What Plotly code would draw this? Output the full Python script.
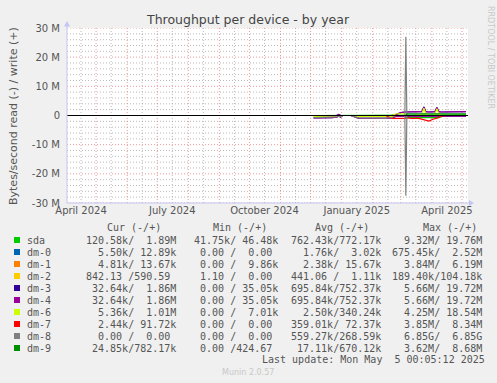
import plotly.graph_objects as go
import pandas as pd

# ---------------- data (values in M bytes/second; read negative, write positive) ----------------
dates = ["2024-12-04","2024-12-10","2024-12-16","2024-12-22","2024-12-27","2024-12-29","2024-12-31",
         "2025-01-02","2025-01-10","2025-01-18","2025-01-25","2025-02-01","2025-02-08","2025-02-14",
         "2025-02-20","2025-02-24","2025-03-01","2025-03-05","2025-03-06","2025-03-07","2025-03-12",
         "2025-03-18","2025-03-22","2025-03-24","2025-03-26","2025-03-29","2025-04-02","2025-04-04",
         "2025-04-06","2025-04-08","2025-04-10","2025-04-15","2025-04-22","2025-04-29","2025-05-05"]

devices = ["sda","dm-0","dm-1","dm-2","dm-3","dm-4","dm-6","dm-7","dm-8","dm-9"]
colors  = ["#00cc00","#0066b3","#ff8000","#ffcc00","#330099","#990099","#ccff00","#ff0000","#808080","#008f00"]

Z = [0.0]*35
sda_read  = [0,0,0,0,0,0,0, 0,0,0,0,0,0,0, 0,0,0,0,-0.7,-0.7,-0.6, -0.7,-0.7,-0.8,-0.7,-0.7,-0.7,-0.6, -0.7,-0.7,-0.5,0,0,0,0]
sda_write = [0,0,0,0,0,0,0, 0,0,0,0,0,0,0, 0,0,0,0,0.2,0.2,0.2, 0.2,0.2,0.2,0.2,0.2,0.2,0.2, 0.2,0.2,0.2,0.2,0.2,0.2,0.2]
dm0_read, dm0_write = Z, Z
dm1_read, dm1_write = Z, Z
dm2_read, dm2_write = Z, Z
dm4_read  = [-0.8,-0.85,-0.8,-0.75,-0.6,-0.2,-0.5, 0,0,-0.9,-0.95,-1.0,-0.9,-1.0, -0.8,-0.3,-0.2,-0.2,-0.2,-0.2,-0.2, -0.2,-0.2,-0.2,-0.2,-0.2,-0.2,-0.2, -0.2,-0.2,-0.2,-0.2,-0.2,-0.2,-0.2]
dm4_write = [0,0,0,0,0,0.4,0, 0,0,0,0,0,0,0, 0,0.3,1.0,1.2,1.2,1.2,1.2, 1.2,1.3,2.9,1.3,1.2,1.2,1.3, 2.7,1.3,1.2,1.2,1.2,1.3,1.3]
dm3_read, dm3_write = dm4_read, dm4_write
dm6_read  = [-0.3,-0.3,-0.3,-0.3,-0.3,-0.3,-0.3, 0,0,-0.3,-0.3,-0.3,-0.3,-0.3, -0.3,0,0,0,0,0,0, 0,0,0,0,0,0,0, 0,0,0,0,0,0,0]
dm6_write = [0,0,0,0,0,0,0, 0,0,0,0,0,0,0, 0,0.6,0.6,0.6,0,0,0, 0,0.5,2.5,0.5,0,0,0.4, 2.3,0.4,0,0,0,0,0]
dm7_read  = [0,0,0,0,0,0,0, 0,0,0,0,0,0,0, -1.0,-1.0,-1.1,-0.9,-1.0,-0.8,-1.0, -0.9,-1.2,-1.5,-1.6,-1.9,-1.3,-1.0, -0.9,-0.7,-0.2,0,0,0,0]
dm7_write = Z
dm8_read  = [-0.7,-0.7,-0.7,-0.65,-0.5,-0.2,-0.4, 0,0,-0.8,-0.85,-0.9,-0.8,-0.9, -0.7,0,0,0,-27.5,0,0, 0,0,0,0,0,0,0, 0,0,0,0,0,0,0]
dm8_write = [0,0,0,0,0,0,0, 0,0,0,0,0,0,0, 0,0,0,0,27.0,0,0, 0,0,0,0,0,0,0, 0,0,0,0,0,0,0]
dm9_read  = [0,0,0,0,0,0,0, 0,0,0,0,0,0,0, 0,0,0,0,0,-0.25,-0.25, -0.25,-0.25,-0.25,-0.25,-0.25,-0.25,-0.25, -0.25,-0.25,-0.25,0,0,0,0]
dm9_write = [0,0,0,0,0,0,0, 0,0,0,0,0,0,0, 0,0,0,0,0,0.55,0.55, 0.55,0.55,0.55,0.55,0.55,0.55,0.55, 0.55,0.55,0.55,0.55,0.55,0.55,0.55]

reads  = [sda_read, dm0_read, dm1_read, dm2_read, dm3_read, dm4_read, dm6_read, dm7_read, dm8_read, dm9_read]
writes = [sda_write, dm0_write, dm1_write, dm2_write, dm3_write, dm4_write, dm6_write, dm7_write, dm8_write, dm9_write]

y_tickvals = [30, 20, 10, 0, -10, -20, -30]
y_ticktext = ["30 M", "20 M", "10 M", "0", "-10 M", "-20 M", "-30 M"]
x_tickvals = ["2024-04-16", "2024-07-16", "2024-10-16", "2025-01-16", "2025-04-16"]
x_ticktext = ["April 2024", "July 2024", "October 2024", "January 2025", "April 2025"]

legend_cur = ["120.58k/  1.89M", "  5.50k/ 12.89k", "  4.81k/ 13.67k", "842.13 /590.59 ", " 32.64k/  1.86M",
              " 32.64k/  1.86M", "  5.36k/  1.01M", "  2.44k/ 91.72k", "  0.00 /  0.00 ", " 24.85k/782.17k"]
legend_min = [" 41.75k/ 46.48k", "  0.00 /  0.00 ", "  0.00 /  9.86k", "  1.10 /  0.00 ", "  0.00 / 35.05k",
              "  0.00 / 35.05k", "  0.00 /  7.01k", "  0.00 /  0.00 ", "  0.00 /  0.00 ", "  0.00 /424.67 "]
legend_avg = ["762.43k/772.17k", "  1.76k/  3.02k", "  2.38k/ 15.67k", "441.06 /  1.11k", "695.84k/752.37k",
              "695.84k/752.37k", "  2.50k/340.24k", "359.01k/ 72.37k", "559.27k/268.59k", " 17.11k/670.12k"]
legend_max = ["  9.32M/ 19.76M", "675.45k/  2.52M", "  3.84M/  6.19M", "189.40k/104.18k", "  5.66M/ 19.72M",
              "  5.66M/ 19.72M", "  4.25M/ 18.54M", "  3.85M/  8.34M", "  6.85G/  6.85G", "  3.62M/  8.68M"]
headers = ["Cur (-/+)", "Min (-/+)", "Avg (-/+)", "Max (-/+)"]

# ---------------- figure ----------------
W, H = 497, 383
PX0, PX1, PY0, PY1 = 67, 468, 28, 203
def xp(px): return (px - PX0) / (PX1 - PX0)
def yp(py): return (PY1 - py) / (PY1 - PY0)
def nb(s): return s.replace(" ", "\u00a0")

fig = go.Figure()
for name, col, r, w in zip(devices, colors, reads, writes):
    fig.add_trace(go.Scatter(x=pd.to_datetime(dates), y=r, mode="lines", line=dict(color=col, width=1.2),
                             showlegend=False, hoverinfo="skip"))
    fig.add_trace(go.Scatter(x=pd.to_datetime(dates), y=w, mode="lines", line=dict(color=col, width=1.2),
                             showlegend=False, hoverinfo="skip"))

RED = "rgba(235,110,110,0.7)"
GRY = "rgba(140,140,140,0.6)"
DOT = "1px,2px"
shapes = []
# horizontal grid
for v in range(-30, 31, 2):
    major = (v % 10 == 0)
    shapes.append(dict(type="line", xref="paper", yref="y", x0=0, x1=1, y0=v, y1=v, layer="below",
                       line=dict(color=RED if major else GRY, width=1, dash=DOT)))
# vertical grid
for m in pd.date_range("2024-05-01", "2025-05-01", freq="MS"):
    shapes.append(dict(type="line", xref="x", yref="paper", x0=m, x1=m, y0=0, y1=1, layer="below",
                       line=dict(color=RED, width=1, dash=DOT)))
for m in pd.date_range("2024-04-01", "2025-04-01", freq="MS"):
    d = m + pd.Timedelta(days=15)
    shapes.append(dict(type="line", xref="x", yref="paper", x0=d, x1=d, y0=0, y1=1, layer="below",
                       line=dict(color=GRY, width=1, dash=DOT)))
# zero line
shapes.append(dict(type="line", xref="paper", yref="y", x0=0, x1=1, y0=0, y1=0, layer="above",
                   line=dict(color="black", width=1)))
# axes with arrows
axc = "#c4c4f0"
shapes.append(dict(type="line", xref="paper", yref="paper", x0=0, x1=0, y0=0, y1=yp(24), layer="above",
                   line=dict(color=axc, width=1)))
shapes.append(dict(type="line", xref="paper", yref="paper", x0=0, x1=xp(470), y0=0, y1=0, layer="above",
                   line=dict(color=axc, width=1)))
shapes.append(dict(type="path", xref="paper", yref="paper", layer="above", fillcolor=axc, line=dict(width=0),
                   path=f"M {xp(64)} {yp(26.5)} L {xp(70)} {yp(26.5)} L {xp(67)} {yp(21)} Z"))
shapes.append(dict(type="path", xref="paper", yref="paper", layer="above", fillcolor=axc, line=dict(width=0),
                   path=f"M {xp(469)} {yp(200)} L {xp(469)} {yp(206)} L {xp(474)} {yp(203)} Z"))

# legend squares
for i, col in enumerate(colors):
    yc = 240 + 12 * i
    shapes.append(dict(type="rect", xref="paper", yref="paper", x0=xp(14), x1=xp(20), y0=yp(yc + 3), y1=yp(yc - 3),
                       fillcolor=col, line=dict(width=0)))

ann = []
mono = "DejaVu Sans Mono"
tc = "#555555"
def add(text, px, py, xanchor="left", size=10, color=tc, family=mono, angle=0):
    ann.append(dict(text=nb(text), x=xp(px), y=yp(py), xref="paper", yref="paper", xanchor=xanchor,
                    yanchor="middle", showarrow=False, borderpad=0, borderwidth=0, textangle=angle,
                    font=dict(family=family, size=size, color=color)))

for h, cx in zip(headers, [133.7, 239.5, 342, 450]):
    add(h, cx, 227.5, xanchor="center")
colstarts = [176 - 15 * 6.02, 278.3 - 15 * 6.02, 381.7 - 15 * 6.02, 482.7 - 15 * 6.02]
for i, name in enumerate(devices):
    yc = 240 + 12 * i
    add(name, 26.5, yc)
    for vals, sx in zip([legend_cur, legend_min, legend_avg, legend_max], colstarts):
        add(vals[i], sx, yc)
add("Last update: Mon May  5 00:05:12 2025", 261.7, 359.5)
add("Munin 2.0.57", 247.5, 372.5, xanchor="center", size=8, color="#c8c8c8", family="DejaVu Sans")
add("RRDTOOL / TOBI OETIKER", 490, 58, xanchor="center", size=8, color="#c8c8c8", family="DejaVu Sans", angle=90)
add("Bytes/second read (-) / write (+)", 13, 116, xanchor="center", size=11, family="DejaVu Sans", angle=-90)
add("Throughput per device - by year", 248, 19.5, xanchor="center", size=12.5, color="#444444", family="DejaVu Sans")

fig.update_layout(
    width=W, height=H,
    margin=dict(l=PX0, r=W - PX1, t=PY0, b=H - PY1, pad=0),
    paper_bgcolor="#f0f0f0", plot_bgcolor="white",
    shapes=shapes, annotations=ann,
    xaxis=dict(type="date", range=["2024-04-02", "2025-05-07"], showgrid=False, zeroline=False, showline=False,
               tickvals=x_tickvals, ticktext=x_ticktext, ticks="", ticklen=0,
               tickfont=dict(family="DejaVu Sans", size=10, color=tc), fixedrange=True),
    yaxis=dict(range=[-30, 30], showgrid=False, zeroline=False, showline=False,
               tickvals=y_tickvals, ticktext=y_ticktext, ticks="", ticklen=3, ticklabelstandoff=6,
               tickfont=dict(family="DejaVu Sans", size=10, color=tc), fixedrange=True),
)
fig.write_html("out.html", config={"displayModeBar": False},
               post_script="document.body.style.margin='0';document.body.style.overflow='hidden';")
